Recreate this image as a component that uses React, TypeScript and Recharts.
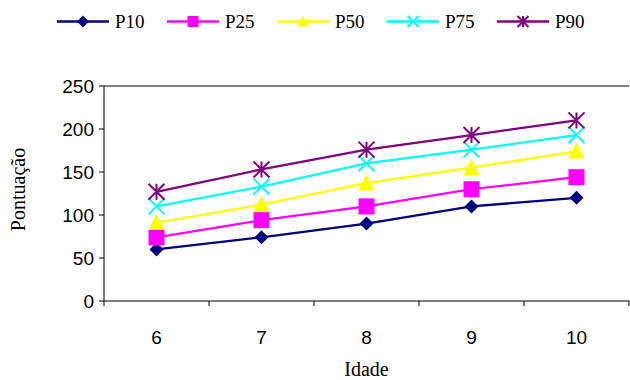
import React from 'react';
import { LineChart, Line, XAxis, YAxis, ReferenceLine } from 'recharts';

// idade (anos) e percentis da pontuação
const categories = ['6', '7', '8', '9', '10'];
const p10 = [60, 74, 90, 110, 120];
const p25 = [74, 94, 110, 130, 144];
const p50 = [91, 112, 137, 155, 174];
const p75 = [110, 133, 160, 176, 193];
const p90 = [127, 153, 176, 193, 210];
const yTicks = [0, 50, 100, 150, 200, 250];

const seriesNames = ['P10', 'P25', 'P50', 'P75', 'P90'];
const seriesValues = [p10, p25, p50, p75, p90];
const seriesColors = ['#000080', '#FF00FF', '#FFFF00', '#00FFFF', '#800080'];
const seriesShapes = ['diamond', 'square', 'triangle', 'cross', 'star'];

const W = 630;
const H = 380;
const AXIS_W = 104;
const PLOT_W = W - AXIS_W - 1;
const BAND = PLOT_W / categories.length;
const SERIF = '"Liberation Serif", "Times New Roman", serif';
const SANS = '"Liberation Sans", Arial, sans-serif';

const chartData = categories.map((idade, i) => {
  const row: any = { idade };
  seriesNames.forEach((name, s) => {
    row[name] = seriesValues[s][i];
  });
  return row;
});

const Marker = ({ shape, cx, cy, color, r }: any) => {
  switch (shape) {
    case 'diamond':
      return <path d={`M${cx},${cy - r} L${cx + r},${cy} L${cx},${cy + r} L${cx - r},${cy} Z`} fill={color} />;
    case 'square':
      return <rect x={cx - r} y={cy - r} width={2 * r} height={2 * r} fill={color} />;
    case 'triangle':
      return <path d={`M${cx},${cy - r * 1.1} L${cx + r},${cy + r * 0.9} L${cx - r},${cy + r * 0.9} Z`} fill={color} />;
    case 'cross':
      return (
        <path
          d={`M${cx - r},${cy - r} L${cx + r},${cy + r} M${cx - r},${cy + r} L${cx + r},${cy - r}`}
          stroke={color}
          strokeWidth={2}
          fill="none"
        />
      );
    default:
      return (
        <path
          d={`M${cx - r},${cy - r} L${cx + r},${cy + r} M${cx - r},${cy + r} L${cx + r},${cy - r} M${cx},${cy - r} L${cx},${cy + r}`}
          stroke={color}
          strokeWidth={2}
          fill="none"
        />
      );
  }
};

const XTick = ({ x, y, payload, index }: any) => {
  const last = index === categories.length - 1;
  return (
    <g>
      <line x1={x - BAND / 2} x2={x - BAND / 2} y1={y} y2={y + 5} stroke="#000" />
      {last && <line x1={x + BAND / 2} x2={x + BAND / 2} y1={y} y2={y + 5} stroke="#000" />}
      <text x={x} y={y + 36} textAnchor="middle" dominantBaseline="central" fontFamily={SANS} fontSize={19} fill="#000">
        {payload.value}
      </text>
    </g>
  );
};

const LegendRow = () => (
  <svg width={W} height={40} style={{ position: 'absolute', left: 0, top: 0 }}>
    {seriesNames.map((name, i) => {
      const x0 = 57 + i * 110;
      return (
        <g key={name}>
          <line x1={x0} x2={x0 + 52} y1={21.5} y2={21.5} stroke={seriesColors[i]} strokeWidth={2.5} />
          <Marker shape={seriesShapes[i]} cx={x0 + 26} cy={21.5} color={seriesColors[i]} r={i === 0 ? 6 : 5.5} />
          <text x={x0 + 58} y={21.5} dominantBaseline="central" fontFamily={SERIF} fontSize={19} fill="#000">
            {name}
          </text>
        </g>
      );
    })}
  </svg>
);

export default function App() {
  return (
    <div style={{ position: 'absolute', left: 0, top: 0, width: W, height: H, background: '#fff' }}>
      <LineChart width={W} height={H} data={chartData} margin={{ top: 86, right: 1, bottom: 0, left: 0 }}>
        <XAxis
          dataKey="idade"
          height={79}
          padding={{ left: BAND / 2, right: BAND / 2 }}
          axisLine={{ stroke: '#000' }}
          tickLine={false}
          tickSize={0}
          tickMargin={0}
          tick={<XTick />}
          interval={0}
          label={{
            value: 'Idade',
            position: 'insideBottom',
            offset: 4,
            style: { fontFamily: SERIF, fontSize: 20, fill: '#000' },
          }}
        />
        <YAxis
          width={AXIS_W}
          domain={[0, 250]}
          ticks={yTicks}
          interval={0}
          axisLine={{ stroke: '#000' }}
          tickLine={{ stroke: '#000' }}
          tickSize={5}
          tickMargin={5}
          tick={{ fontFamily: SANS, fontSize: 19, fill: '#000' }}
          label={({ viewBox }: any) => (
            <text
              x={18}
              y={viewBox.y + viewBox.height / 2 - 4}
              transform={`rotate(-90, 18, ${viewBox.y + viewBox.height / 2 - 4})`}
              textAnchor="middle"
              dominantBaseline="central"
              fontFamily={SERIF}
              fontSize={20}
              fill="#000"
            >
              Pontuação
            </text>
          )}
        />
        <ReferenceLine y={250} stroke="#000" />
        {seriesNames.map((name, i) => (
          <Line
            key={name}
            dataKey={name}
            stroke={seriesColors[i]}
            strokeWidth={2.25}
            isAnimationActive={false}
            dot={(p: any) => (
              <Marker key={`${name}-${p.index}`} shape={seriesShapes[i]} cx={p.cx} cy={p.cy} color={seriesColors[i]} r={i === 0 ? 7 : 8} />
            )}
            activeDot={false}
          />
        ))}
      </LineChart>
      <LegendRow />
    </div>
  );
}
